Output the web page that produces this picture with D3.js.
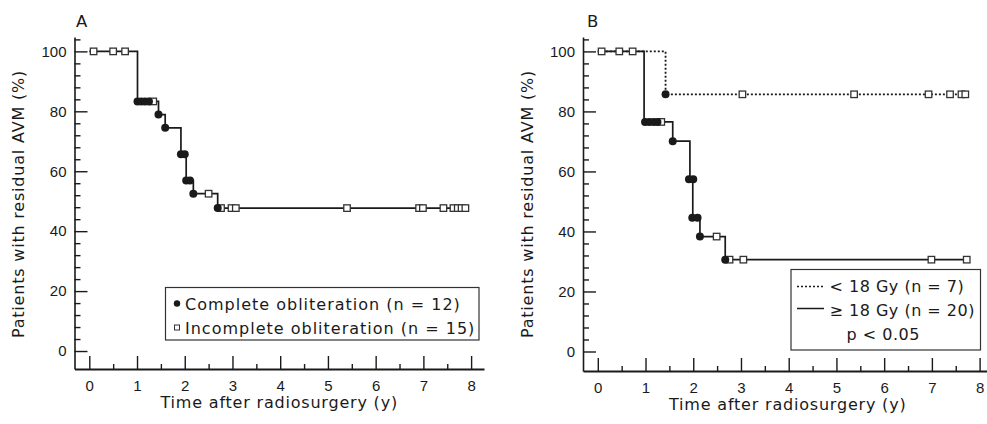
<!DOCTYPE html>
<html lang="en">
<head>
<meta charset="utf-8">
<script src="https://cdn.jsdelivr.net/npm/d3@7/dist/d3.min.js"></script>
<style>
  body { margin: 0; background: #fff; }
  svg { display: block; font-family: "DejaVu Sans", Verdana, sans-serif; }
  .tick text { font-size: 15px; fill: #1a1a1a; }
  .axis path, .axis line { stroke: #1a1a1a; }
  .title { font-size: 16px; letter-spacing: 0.8px; fill: #1a1a1a; }
  .legend text { font-size: 16px; letter-spacing: 1px; fill: #1a1a1a; }
  .legend.b text { letter-spacing: 0.5px; }
</style>
</head>
<body>
<script>
// tick values
var xMajor = [0, 1, 2, 3, 4, 5, 6, 7, 8];
var xMinor = [0.5, 1.5, 2.5, 3.5, 4.5, 5.5, 6.5, 7.5];
var yMajor = [0, 20, 40, 60, 80, 100];
var yMinor = [4, 8, 12, 16, 24, 28, 32, 36, 44, 48, 52, 56, 64, 68, 72, 76, 84, 88, 92, 96, 104];

// Panel A: whole group (n = 27)
var stepTimeA  = [0, 1.01, 1.45, 1.59, 1.92, 2.03, 2.18, 2.69, 7.88];
var stepValueA = [100, 83.3, 78.9, 74.5, 65.7, 56.9, 52.5, 47.7, 47.7];
var eventTimeA  = [1.01, 1.09, 1.17, 1.25, 1.45, 1.59, 1.92, 2.00, 2.03, 2.11, 2.18, 2.69];
var eventValueA = [83.3, 83.3, 83.3, 83.3, 78.9, 74.5, 65.7, 65.7, 56.9, 56.9, 52.5, 47.7];
var censorTimeA  = [0.09, 0.50, 0.75, 1.34, 2.50, 2.76, 2.98, 3.07, 5.40, 6.91, 6.99, 7.42, 7.63, 7.72, 7.80, 7.88];
var censorValueA = [100, 100, 100, 83.3, 52.5, 47.7, 47.7, 47.7, 47.7, 47.7, 47.7, 47.7, 47.7, 47.7, 47.7, 47.7];

// Panel B: >= 18 Gy (solid, n = 20)
var stepTimeHigh  = [0, 0.97, 1.57, 1.93, 1.99, 2.14, 2.67, 7.73];
var stepValueHigh = [100, 76.5, 70.1, 57.4, 44.6, 38.3, 30.6, 30.6];
var eventTimeHigh  = [0.99, 1.08, 1.17, 1.25, 1.57, 1.91, 2.00, 1.98, 2.09, 2.14, 2.67];
var eventValueHigh = [76.5, 76.5, 76.5, 76.5, 70.1, 57.4, 57.4, 44.6, 44.6, 38.3, 30.6];
var censorTimeHigh  = [0.08, 0.45, 0.73, 1.33, 2.49, 2.76, 3.05, 6.99, 7.73];
var censorValueHigh = [100, 100, 100, 76.5, 38.3, 30.6, 30.6, 30.6, 30.6];

// Panel B: < 18 Gy (dotted, n = 7)
var stepTimeLow  = [0, 1.42, 7.72];
var stepValueLow = [100, 85.7, 85.7];
var eventTimeLow  = [1.42];
var eventValueLow = [85.7];
var censorTimeLow  = [3.03, 5.37, 6.93, 7.38, 7.62, 7.70];
var censorValueLow = [85.7, 85.7, 85.7, 85.7, 85.7, 85.7];

var w = 987, h = 424;
var ink = "#1a1a1a";

var svg = d3.select("body").append("svg")
  .attr("width", w)
  .attr("height", h);

function zip(a, b) {
  return a.map(function(d, i) { return [d, b[i]]; });
}

// draws axes, titles and panel letter, returns the scales
function drawPanel(cfg) {
  var x = d3.scaleLinear().domain([-0.31, 8.27]).range([cfg.left, cfg.left + 409.5]);
  var y = d3.scaleLinear().domain([cfg.yBottom, 104.8]).range([cfg.base, 37]);
  var g = svg.append("g");

  // minor ticks first, majors on top
  g.append("g").attr("class", "axis")
    .attr("transform", "translate(0," + cfg.base + ")")
    .call(d3.axisBottom(x).tickValues(xMinor).tickSize(-5).tickFormat(""))
    .call(function(s) { s.select(".domain").remove(); });
  g.append("g").attr("class", "axis")
    .attr("transform", "translate(" + cfg.left + ",0)")
    .call(d3.axisLeft(y).tickValues(yMinor).tickSize(-6).tickFormat(""))
    .call(function(s) { s.select(".domain").remove(); });

  var xAxis = g.append("g").attr("class", "axis")
    .attr("transform", "translate(0," + cfg.base + ")")
    .call(d3.axisBottom(x).tickValues(xMajor).tickSize(-13).tickSizeOuter(0).tickPadding(11));
  xAxis.select(".domain").attr("stroke-width", 2);

  var yAxis = g.append("g").attr("class", "axis")
    .attr("transform", "translate(" + cfg.left + ",0)")
    .call(d3.axisLeft(y).tickValues(yMajor).tickSize(-13).tickSizeOuter(0).tickPadding(8));
  yAxis.select(".domain").attr("stroke-width", 1.6);
  g.selectAll(".axis line").attr("stroke-width", 1.4);

  // axis titles
  g.append("text").attr("class", "title")
    .attr("x", (x.range()[0] + x.range()[1]) / 2)
    .attr("y", cfg.base + 39)
    .attr("text-anchor", "middle")
    .text("Time after radiosurgery (y)");
  g.append("text").attr("class", "title")
    .attr("transform", "translate(" + (cfg.left - 50.5) + ",204) rotate(-90)")
    .attr("text-anchor", "middle")
    .text("Patients with residual AVM (%)");

  // panel letter
  g.append("text")
    .attr("x", cfg.left + cfg.letterDx)
    .attr("y", 27)
    .style("font-size", "16.5px")
    .attr("fill", ink)
    .text(cfg.letter);

  return {x: x, y: y, g: g};
}

function drawCurve(p, times, values, dash) {
  var line = d3.line()
    .curve(d3.curveStepAfter)
    .x(function(d) { return p.x(d[0]); })
    .y(function(d) { return p.y(d[1]); });
  p.g.append("path")
    .datum(zip(times, values))
    .attr("d", line)
    .attr("fill", "none")
    .attr("stroke", ink)
    .attr("stroke-width", dash ? 1.8 : 1.7)
    .attr("stroke-dasharray", dash ? "2,2" : null);
}

function drawMarkers(p, eTimes, eValues, cTimes, cValues) {
  var s = 6.5;
  p.g.selectAll(null)
    .data(zip(cTimes, cValues))
    .enter().append("rect")
    .attr("x", function(d) { return p.x(d[0]) - s / 2; })
    .attr("y", function(d) { return p.y(d[1]) - s / 2; })
    .attr("width", s)
    .attr("height", s)
    .attr("fill", "#fff")
    .attr("stroke", "#333")
    .attr("stroke-width", 1.3);
  p.g.selectAll(null)
    .data(zip(eTimes, eValues))
    .enter().append("circle")
    .attr("cx", function(d) { return p.x(d[0]); })
    .attr("cy", function(d) { return p.y(d[1]); })
    .attr("r", 4)
    .attr("fill", ink);
}

// ---- Panel A
var pA = drawPanel({left: 74.5, base: 369, yBottom: -6, letter: "A", letterDx: 1.5});
drawCurve(pA, stepTimeA, stepValueA, false);
drawMarkers(pA, eventTimeA, eventValueA, censorTimeA, censorValueA);

var legA = svg.append("g").attr("class", "legend");
legA.append("rect")
  .attr("x", 165.5).attr("y", 287.5).attr("width", 313.5).attr("height", 52.5)
  .attr("fill", "#fff").attr("stroke", "#333").attr("stroke-width", 1.2);
legA.append("circle").attr("cx", 177).attr("cy", 303.5).attr("r", 3.2).attr("fill", ink);
legA.append("rect").attr("x", 174.5).attr("y", 325).attr("width", 5).attr("height", 5)
  .attr("fill", "#fff").attr("stroke", "#333").attr("stroke-width", 1);
legA.append("text").attr("x", 185).attr("y", 309.5).text("Complete obliteration (n = 12)");
legA.append("text").attr("x", 185).attr("y", 333.5).text("Incomplete obliteration (n = 15)");

// ---- Panel B
var pB = drawPanel({left: 583, base: 371, yBottom: -6.5, letter: "B", letterDx: 4});
drawCurve(pB, stepTimeLow, stepValueLow, true);
drawCurve(pB, stepTimeHigh, stepValueHigh, false);
drawMarkers(pB, eventTimeLow, eventValueLow, censorTimeLow, censorValueLow);
drawMarkers(pB, eventTimeHigh, eventValueHigh, censorTimeHigh, censorValueHigh);

var legB = svg.append("g").attr("class", "legend b");
legB.append("rect")
  .attr("x", 791).attr("y", 269.5).attr("width", 189.5).attr("height", 80.5)
  .attr("fill", "#fff").attr("stroke", "#333").attr("stroke-width", 1.2);
legB.append("line").attr("x1", 797).attr("x2", 824).attr("y1", 286.5).attr("y2", 286.5)
  .attr("stroke", ink).attr("stroke-width", 1.5).attr("stroke-dasharray", "2,2");
legB.append("line").attr("x1", 797).attr("x2", 824).attr("y1", 308.5).attr("y2", 308.5)
  .attr("stroke", ink).attr("stroke-width", 1.5);
legB.append("text").attr("x", 829.5).attr("y", 291.5).text("< 18 Gy (n = 7)");
legB.append("text").attr("x", 829.5).attr("y", 316).text("\u2265 18 Gy (n = 20)");
legB.append("text").attr("x", 846.5).attr("y", 339.5).text("p < 0.05");
</script>
</body>
</html>
